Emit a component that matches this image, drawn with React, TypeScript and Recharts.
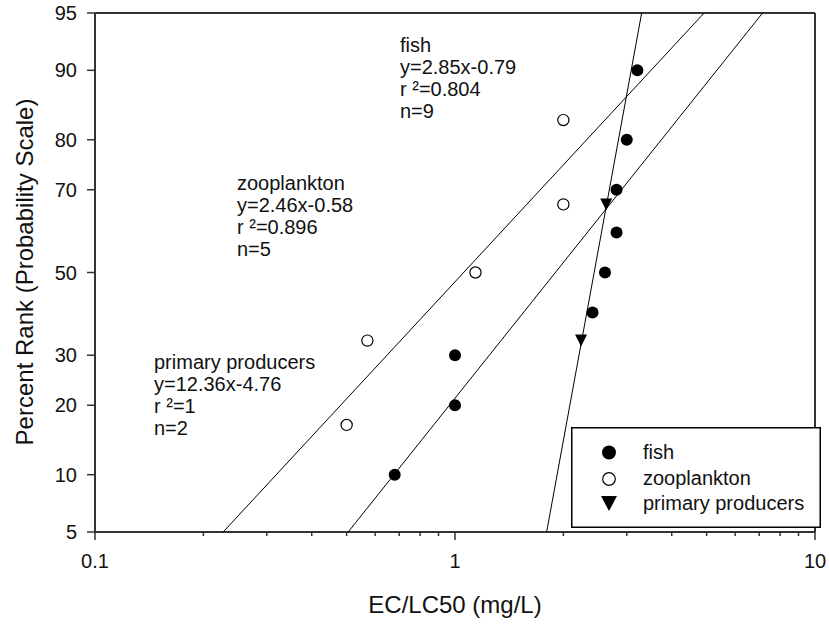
import React from 'react';
import { ScatterChart, Scatter, XAxis, YAxis, ReferenceLine, Legend } from 'recharts';

// values: concentration (mg/L) and percent rank
const fishConc = [0.68, 1.0, 1.0, 2.41, 2.61, 2.81, 2.81, 3.0, 3.21];
const fishRank = [10, 20, 30, 40, 50, 60, 70, 80, 90];
const zooConc = [0.5, 0.571, 1.14, 2.0, 2.0];
const zooRank = [16.7, 33.3, 50, 66.7, 83.3];
const prodConc = [2.24, 2.63];
const prodRank = [33.3, 66.7];

// regression lines, clipped at the 5% and 95% edges
const fitRank = [5, 95];
const fishFitConc = [0.505, 7.15];
const zooFitConc = [0.227, 4.92];
const prodFitConc = [1.797, 3.3];

const yTickPct = [5, 10, 20, 30, 50, 70, 80, 90, 95];
const xTicks = [0.1, 0.2, 0.3, 0.4, 0.5, 0.6, 0.7, 0.8, 0.9, 1, 2, 3, 4, 5, 6, 7, 8, 9, 10];
const xMajor = [0.1, 1, 10];

const notes = [
  { lines: ['fish', 'y=2.85x-0.79', 'r \u00b2=0.804', 'n=9'], x: 400, y: 51.5 },
  { lines: ['zooplankton', 'y=2.46x-0.58', 'r \u00b2=0.896', 'n=5'], x: 237, y: 190 },
  { lines: ['primary producers', 'y=12.36x-4.76', 'r \u00b2=1', 'n=2'], x: 154, y: 369 },
];

const FONT = '"Liberation Sans", Arial, sans-serif';

// inverse normal CDF (Acklam), for the probability scale
function probit(p: number) {
  const a = [-39.69683028665376, 220.9460984245205, -275.9285104469687, 138.357751867269, -30.66479806614716, 2.506628277459239];
  const b = [-54.47609879822406, 161.5858368580409, -155.6989798598866, 66.80131188771972, -13.28068155196451];
  const c = [-0.007784894002430293, -0.3223964580411365, -2.400758277161838, -2.549671348529108, 4.374664141464968, 2.938163982698783];
  const d = [0.007784695709041462, 0.3224671290700398, 2.445134137142996, 3.754408661907416];
  const plow = 0.02425;
  if (p < plow) {
    const q = Math.sqrt(-2 * Math.log(p));
    return (((((c[0] * q + c[1]) * q + c[2]) * q + c[3]) * q + c[4]) * q + c[5]) / ((((d[0] * q + d[1]) * q + d[2]) * q + d[3]) * q + 1);
  }
  if (p <= 1 - plow) {
    const q = p - 0.5;
    const r = q * q;
    return ((((((a[0] * r + a[1]) * r + a[2]) * r + a[3]) * r + a[4]) * r + a[5]) * q) / (((((b[0] * r + b[1]) * r + b[2]) * r + b[3]) * r + b[4]) * r + 1);
  }
  const q = Math.sqrt(-2 * Math.log(1 - p));
  return -(((((c[0] * q + c[1]) * q + c[2]) * q + c[3]) * q + c[4]) * q + c[5]) / ((((d[0] * q + d[1]) * q + d[2]) * q + d[3]) * q + 1);
}

const toPoints = (conc: number[], rank: number[]) => conc.map((c, i) => ({ x: c, y: probit(rank[i] / 100) }));

const fishPts = toPoints(fishConc, fishRank);
const zooPts = toPoints(zooConc, zooRank);
const prodPts = toPoints(prodConc, prodRank);
const fishFit = toPoints(fishFitConc, fitRank);
const zooFit = toPoints(zooFitConc, fitRank);
const prodFit = toPoints(prodFitConc, fitRank);

const yTicks = yTickPct.map((p) => probit(p / 100));
const yLow = yTicks[0];
const yHigh = yTicks[yTicks.length - 1];

const FilledDot = (props: any) => <circle cx={props.cx} cy={props.cy} r={6} fill="#000" />;
const OpenDot = (props: any) => <circle cx={props.cx} cy={props.cy} r={5.6} fill="#fff" stroke="#000" strokeWidth={1.2} />;
const DownTri = (props: any) => (
  <polygon points={`${props.cx - 6},${props.cy - 6} ${props.cx + 6},${props.cy - 6} ${props.cx},${props.cy + 6}`} fill="#000" />
);
const NoShape = () => <g />;

const XTick = (props: any) => {
  const { x, y, payload } = props;
  const major = xMajor.includes(payload.value);
  return (
    <g>
      <line x1={x} x2={x} y1={y} y2={y + (major ? 8 : 4)} stroke="#333" strokeWidth={1.5} />
      {major && (
        <text x={x} y={y + 36} textAnchor="middle" fontSize={20} fill="#111" fontFamily={FONT}>
          {payload.value}
        </text>
      )}
    </g>
  );
};

const LegendBox = () => (
  <svg width={250} height={101} style={{ display: 'block' }}>
    <rect x={0.75} y={0.75} width={248.5} height={99.5} fill="#fff" stroke="#000" strokeWidth={1.5} />
    <circle cx={38} cy={25.5} r={7} fill="#000" />
    <circle cx={38} cy={52} r={6.3} fill="#fff" stroke="#000" strokeWidth={1.2} />
    <polygon points="30,69 46,69 38,84" fill="#000" />
    <g fontFamily={FONT} fontSize={20} fill="#111">
      <text x={72} y={31.5}>fish</text>
      <text x={72} y={58}>zooplankton</text>
      <text x={72} y={82.5}>primary producers</text>
    </g>
  </svg>
);

export default function App() {
  return (
    <div style={{ position: 'absolute', left: 0, top: 0, width: 829, height: 624, background: '#fff', fontFamily: FONT }}>
      <ScatterChart width={829} height={624} margin={{ top: 13, right: 14, left: 0, bottom: 0 }}>
        <XAxis
          type="number"
          dataKey="x"
          scale="log"
          domain={[0.1, 10]}
          ticks={xTicks}
          interval={0}
          allowDataOverflow
          height={92}
          tickSize={0}
          tickMargin={0}
          tickLine={false}
          axisLine={{ stroke: '#333', strokeWidth: 2 }}
          tick={XTick}
        />
        <YAxis
          type="number"
          dataKey="y"
          domain={[yLow, yHigh]}
          ticks={yTicks}
          interval={0}
          allowDataOverflow
          width={95}
          tickSize={8}
          tickMargin={10}
          axisLine={{ stroke: '#333', strokeWidth: 2 }}
          tickLine={{ stroke: '#333', strokeWidth: 1.5 }}
          tick={{ fill: '#111', fontSize: 20, fontFamily: FONT }}
          tickFormatter={(v: number) => {
            const i = yTicks.findIndex((t) => Math.abs(t - v) < 1e-6);
            return i >= 0 ? String(yTickPct[i]) : '';
          }}
        />
        <ReferenceLine y={yHigh} stroke="#333" strokeWidth={2} />
        <ReferenceLine x={10} stroke="#333" strokeWidth={2} />
        <Scatter data={zooFit} line={{ stroke: '#000', strokeWidth: 1 }} shape={NoShape} isAnimationActive={false} />
        <Scatter data={fishFit} line={{ stroke: '#000', strokeWidth: 1 }} shape={NoShape} isAnimationActive={false} />
        <Scatter data={prodFit} line={{ stroke: '#000', strokeWidth: 1 }} shape={NoShape} isAnimationActive={false} />
        <Scatter name="fish" data={fishPts} shape={FilledDot} isAnimationActive={false} />
        <Scatter name="zooplankton" data={zooPts} shape={OpenDot} isAnimationActive={false} />
        <Scatter name="primary producers" data={prodPts} shape={DownTri} isAnimationActive={false} />
        <Legend
          layout="vertical"
          align="center"
          verticalAlign="middle"
          content={LegendBox}
          wrapperStyle={{ left: 571, top: 427, width: 250, height: 101 }}
        />
      </ScatterChart>
      <svg width={829} height={624} style={{ position: 'absolute', left: 0, top: 0, pointerEvents: 'none' }}>
        <g fontFamily={FONT} fontSize={20} fill="#111">
          {notes.map((n) =>
            n.lines.map((t, i) => (
              <text key={n.x + '-' + i} x={n.x} y={n.y + i * 22}>
                {t}
              </text>
            ))
          )}
        </g>
        <text x={455} y={613} textAnchor="middle" fontSize={24} fill="#111" fontFamily={FONT}>
          EC/LC50 (mg/L)
        </text>
        <text transform="translate(33,272) rotate(-90)" textAnchor="middle" fontSize={24} fill="#111" fontFamily={FONT}>
          Percent Rank (Probability Scale)
        </text>
      </svg>
    </div>
  );
}
